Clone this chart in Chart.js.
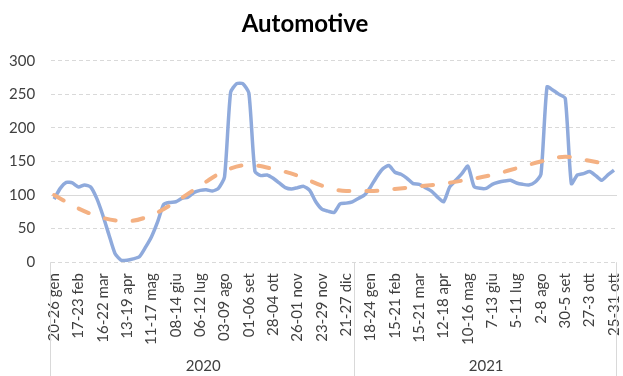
<!DOCTYPE html>
<html>
<head>
<meta charset="utf-8">
<script src="https://cdn.jsdelivr.net/npm/chart.js@4.4.1/dist/chart.umd.min.js"></script>
<style>
  body { margin: 0; background: #fff; }
  #wrap { width: 623px; height: 376px; }
</style>
</head>
<body>
<div id="wrap"><canvas id="chart"></canvas></div>
<script>
// weekly categories, Jan 2020 - Oct 2021
var weeks = [
  '20-26 gen','27-02 feb','03-09 feb','10-16 feb','17-23 feb','24-01 mar','02-08 mar','09-15 mar',
  '16-22 mar','23-29 mar','30-05 apr','06-12 apr','13-19 apr','20-26 apr','27-03 mag','04-10 mag',
  '11-17 mag','18-24 mag','25-31 mag','01-07 giu','08-14 giu','15-21 giu','22-28 giu','29-05 lug',
  '06-12 lug','13-19 lug','20-26 lug','27-02 ago','03-09 ago','10-16 ago','17-23 ago','24-30 ago',
  '01-06 set','07-13 set','14-20 set','21-27 set','28-04 ott','05-11 ott','12-18 ott','19-25 ott',
  '26-01 nov','02-08 nov','09-15 nov','16-22 nov','23-29 nov','30-06 dic','07-13 dic','14-20 dic',
  '21-27 dic','28-03 gen',
  '4-10 gen','11-17 gen','18-24 gen','25-31 gen','1-7 feb','8-14 feb','15-21 feb','22-28 feb',
  '1-7 mar','8-14 mar','15-21 mar','22-28 mar','29-4 apr','5-11 apr','12-18 apr','19-25 apr',
  '26-2 mag','3-9 mag','10-16 mag','17-23 mag','24-30 mag','31-6 giu','7-13 giu','14-20 giu',
  '21-27 giu','28-4 lug','5-11 lug','12-18 lug','19-25 lug','26-1 ago','2-8 ago','9-15 ago',
  '16-22 ago','23-29 ago','30-5 set','6-12 set','13-19 set','20-26 set','27-3 ott','4-10 ott',
  '11-17 ott','18-24 ott','25-31 ott'
];

var automotive = [
  94,110,119,118,112,115,112,95,70,41,13,3,3,5,8,22,
  38,60,86,89,90,95,97,104,107,108,106,110,127,253,266,266,
  252,135,129,130,125,118,111,109,111,113,107,90,79,76,74,87,
  88,90,
  95,100,112,127,139,144,134,131,125,117,116,111,106,97,90,112,
  122,132,143,113,110,110,116,119,121,122,118,116,115,119,131,261,
  256,250,244,117,130,132,135,129,122,130,137
];

// trend line read at every 4th week
var trendAt = [0,4,8,12,16,20,24,28,32,36,40,44,48,52,56,60,64,68,72,76,80,84,88,92];
var trendValues = [100,80,66,61,70,90,114,136,145,139,129,114,106,106,109,113,117,123,130,140,150,157,151,144];

var years = ['2020','2021'];
var yearStart = [0,50];     // first week index of each year
var yearEnd = [49,92];      // last week index of each year

var trend = weeks.map(function () { return null; });
trendAt.forEach(function (idx, k) { trend[idx] = trendValues[k]; });

var gridGray = '#d9d9d9';
var textGray = '#404040';

// vertical separators under the plot for the year groups
var yearDividers = {
  id: 'yearDividers',
  afterDraw: function (chart) {
    var sc = chart.scales.year;
    var ctx = chart.ctx;
    var xs = [yearStart[0] - 0.5].concat(yearEnd.map(function (e) { return e + 0.5; }));
    ctx.save();
    ctx.strokeStyle = gridGray;
    ctx.lineWidth = 1;
    xs.forEach(function (v) {
      var x = Math.round(sc.getPixelForValue(v)) - 0.5;
      ctx.beginPath();
      ctx.moveTo(x, chart.chartArea.bottom);
      ctx.lineTo(x, chart.height);
      ctx.stroke();
    });
    ctx.restore();
  }
};

function noSidePadding(axis) {
  axis.paddingLeft = 0;
  axis.paddingRight = 0;
}

new Chart('chart', {
  type: 'line',
  data: {
    labels: weeks,
    datasets: [
      {
        label: 'Automotive',
        data: automotive,
        borderColor: '#8faadc',
        borderWidth: 3.5,
        pointRadius: 0,
        tension: 0.2,
        borderJoinStyle: 'round',
        order: 2
      },
      {
        label: 'Tendenza',
        data: trend,
        spanGaps: true,
        borderColor: '#f4b183',
        borderWidth: 4,
        borderDash: [11, 17],
        borderCapStyle: 'round',
        cubicInterpolationMode: 'monotone',
        pointRadius: 0,
        order: 1
      }
    ]
  },
  plugins: [yearDividers],
  options: {
    responsive: true,
    maintainAspectRatio: false,
    animation: false,
    layout: { padding: { left: -7, right: 6, top: 0, bottom: 0 } },
    plugins: {
      legend: { display: false },
      tooltip: { enabled: false },
      title: {
        display: true,
        text: 'Automotive',
        color: '#000',
        font: { family: 'Lato', size: 24, weight: 'bold' },
        padding: { top: 10, bottom: 22 }
      }
    },
    scales: {
      x: {
        type: 'category',
        offset: true,
        weight: 0,
        grid: { display: false, drawTicks: false },
        border: { display: false },
        afterFit: noSidePadding,
        ticks: {
          autoSkip: false,
          minRotation: 90,
          maxRotation: 90,
          padding: 11,
          color: textGray,
          font: { family: 'Lato', size: 15 },
          callback: function (v, i) { return i % 4 === 0 ? weeks[i] : ''; }
        }
      },
      year: {
        type: 'linear',
        position: 'bottom',
        weight: 1,
        min: yearStart[0] - 0.5,
        max: yearEnd[yearEnd.length - 1] + 0.5,
        grid: { display: false, drawTicks: false },
        border: { display: false },
        afterFit: noSidePadding,
        afterBuildTicks: function (axis) {
          axis.ticks = years.map(function (y, k) {
            return { value: (yearStart[k] + yearEnd[k]) / 2 };
          });
        },
        ticks: {
          autoSkip: false,
          maxRotation: 0,
          padding: 1,
          color: textGray,
          font: { family: 'Lato', size: 15 },
          callback: function (v, i) { return years[i]; }
        }
      },
      y: {
        min: 0,
        max: 300,
        grid: {
          color: gridGray,
          lineWidth: 1,
          drawTicks: false
        },
        border: {
          display: false,
          dash: function (ctx) { return ctx.tick && ctx.tick.value === 100 ? [] : [4, 3]; }
        },
        ticks: {
          stepSize: 50,
          padding: 16,
          color: textGray,
          font: { family: 'Lato', size: 15 }
        }
      }
    }
  }
});
</script>
</body>
</html>
